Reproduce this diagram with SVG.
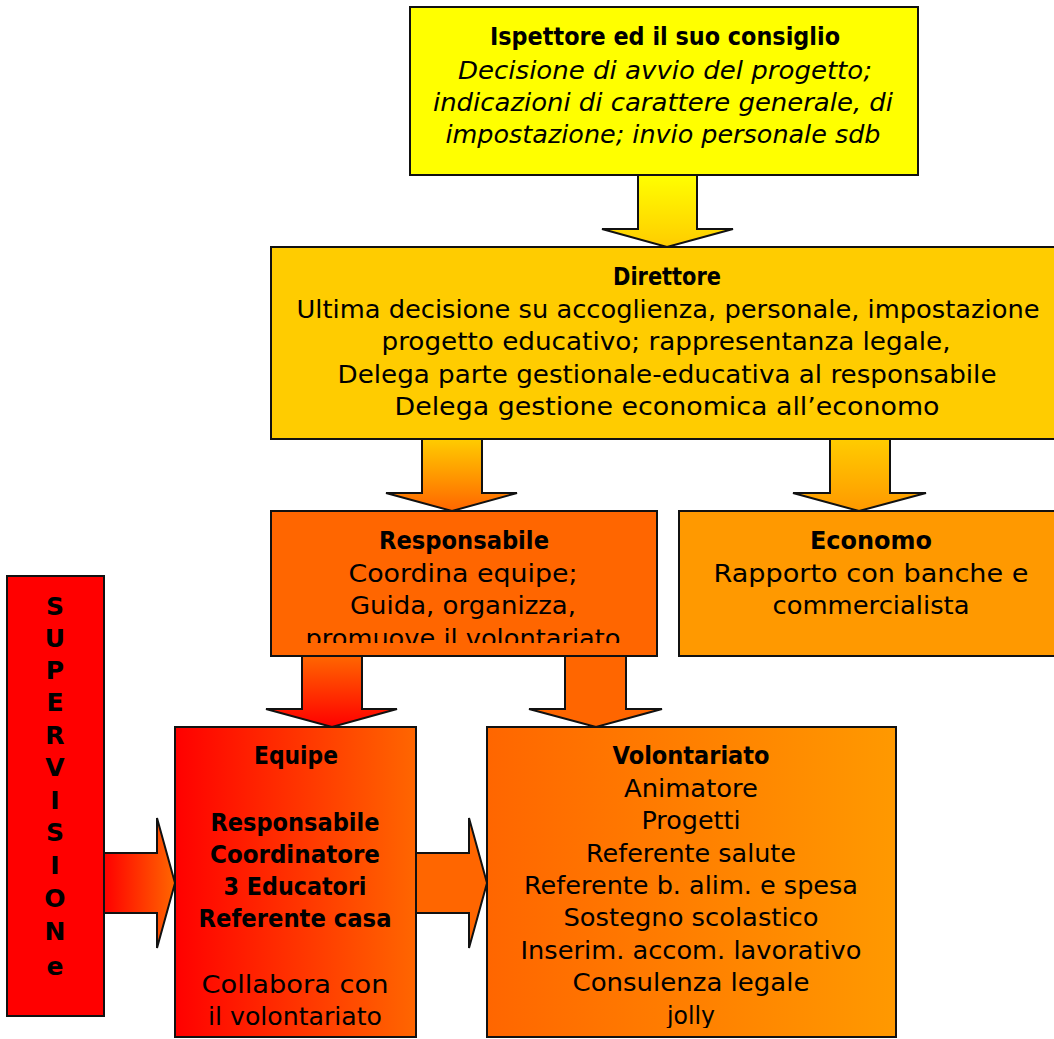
<svg xmlns="http://www.w3.org/2000/svg" width="1054" height="1039" viewBox="0 0 1054 1039">
<style>
  .bx{stroke:#111;stroke-width:2}
  .ar{stroke:#111;stroke-width:2;stroke-linejoin:miter}
  text{font-family:"DejaVu Sans","Liberation Sans",sans-serif;font-size:24.5px;fill:#000;text-anchor:middle}
  .b{font-weight:bold}
  .i{font-style:italic}
  .sv{font-weight:bold;font-size:25px}
</style>
<defs>
  <linearGradient id="gY" x1="0" y1="0" x2="0" y2="1"><stop offset="0" stop-color="#FFFF00"/><stop offset="1" stop-color="#FFCC00"/></linearGradient>
  <linearGradient id="gYO" x1="0" y1="0" x2="0" y2="1"><stop offset="0" stop-color="#FFCC00"/><stop offset="1" stop-color="#FF6600"/></linearGradient>
  <linearGradient id="gYE" x1="0" y1="0" x2="0" y2="1"><stop offset="0" stop-color="#FFCC00"/><stop offset="1" stop-color="#FF9900"/></linearGradient>
  <linearGradient id="gOR" x1="0" y1="0" x2="0" y2="1"><stop offset="0" stop-color="#FF6600"/><stop offset="1" stop-color="#FF0000"/></linearGradient>
  <linearGradient id="gRO" x1="0" y1="0" x2="1" y2="0"><stop offset="0" stop-color="#FF0000"/><stop offset="1" stop-color="#FF6600"/></linearGradient>
  <linearGradient id="gOE" x1="0" y1="0" x2="1" y2="0"><stop offset="0" stop-color="#FF6600"/><stop offset="1" stop-color="#FF9900"/></linearGradient>
  <clipPath id="cResp"><rect x="271" y="511" width="386" height="132"/></clipPath>
  <clipPath id="cBot"><rect x="0" y="727" width="1054" height="301"/></clipPath>
</defs>

<g id="connectors">
  <polygon class="ar" fill="url(#gY)" points="638,175 697,175 697,229 733,229 667,247 602,229 638,229"/>
  <polygon class="ar" fill="url(#gYO)" points="422,439 482,439 482,493 517,493 452,511 386,493 422,493"/>
  <polygon class="ar" fill="url(#gYE)" points="830,439 890,439 890,493 926,493 859,511 793,493 830,493"/>
  <polygon class="ar" fill="url(#gOR)" points="302,656 362,656 362,709 397,709 332,727 266,709 302,709"/>
  <polygon class="ar" fill="#FF6600" points="565,656 626,656 626,709 662,709 596,727 529,709 565,709"/>
  <polygon class="ar" fill="url(#gRO)" points="104,853 157,853 157,818 175,883 157,948 157,913 104,913"/>
  <polygon class="ar" fill="#FF6600" points="416,853 469,853 469,818 487,883 469,948 469,913 416,913"/>
</g>

<g id="ispettore">
  <rect class="bx" x="410" y="7" width="508" height="168" fill="#FFFF00"/>
  <text class="b" x="665" y="45" textLength="350" lengthAdjust="spacingAndGlyphs">Ispettore ed il suo consiglio</text>
  <text class="i" x="665" y="79" textLength="414" lengthAdjust="spacingAndGlyphs">Decisione di avvio del progetto;</text>
  <text class="i" x="663" y="111" textLength="460" lengthAdjust="spacingAndGlyphs">indicazioni di carattere generale, di</text>
  <text class="i" x="663" y="143" textLength="435" lengthAdjust="spacingAndGlyphs">impostazione; invio personale sdb</text>
</g>

<g id="direttore">
  <rect class="bx" x="271" y="247" width="800" height="192" fill="#FFCC00"/>
  <text class="b" x="667" y="285" textLength="108" lengthAdjust="spacingAndGlyphs">Direttore</text>
  <text x="668" y="318" textLength="743" lengthAdjust="spacingAndGlyphs">Ultima decisione su accoglienza, personale, impostazione</text>
  <text x="666" y="350" textLength="569" lengthAdjust="spacingAndGlyphs">progetto educativo; rappresentanza legale,</text>
  <text x="667" y="383" textLength="659" lengthAdjust="spacingAndGlyphs">Delega parte gestionale-educativa al responsabile</text>
  <text x="667" y="415" textLength="545" lengthAdjust="spacingAndGlyphs">Delega gestione economica all’economo</text>
</g>

<g id="responsabile">
  <rect class="bx" x="271" y="511" width="386" height="145" fill="#FF6600"/>
  <g clip-path="url(#cResp)">
    <text class="b" x="464" y="549" textLength="170" lengthAdjust="spacingAndGlyphs">Responsabile</text>
    <text x="463" y="582" textLength="229" lengthAdjust="spacingAndGlyphs">Coordina equipe;</text>
    <text x="463" y="614" textLength="226" lengthAdjust="spacingAndGlyphs">Guida, organizza,</text>
    <text x="463" y="647" textLength="315" lengthAdjust="spacingAndGlyphs">promuove il volontariato</text>
  </g>
</g>

<g id="economo">
  <rect class="bx" x="679" y="511" width="400" height="145" fill="#FF9900"/>
  <text class="b" x="871" y="549" textLength="122" lengthAdjust="spacingAndGlyphs">Economo</text>
  <text x="871" y="582" textLength="315" lengthAdjust="spacingAndGlyphs">Rapporto con banche e</text>
  <text x="871" y="614" textLength="197" lengthAdjust="spacingAndGlyphs">commercialista</text>
</g>

<g id="supervisione">
  <rect class="bx" x="7" y="576" width="97" height="440" fill="#FF0000"/>
  <text class="sv" x="55" y="615">S</text>
  <text class="sv" x="55" y="647">U</text>
  <text class="sv" x="55" y="679">P</text>
  <text class="sv" x="55" y="711">E</text>
  <text class="sv" x="55" y="744">R</text>
  <text class="sv" x="55" y="776">V</text>
  <text class="sv" x="55" y="809">I</text>
  <text class="sv" x="55" y="841">S</text>
  <text class="sv" x="55" y="874">I</text>
  <text class="sv" x="55" y="907">O</text>
  <text class="sv" x="55" y="940">N</text>
  <text class="sv" x="55" y="975">e</text>
</g>

<g id="equipe">
  <rect class="bx" x="175" y="727" width="241" height="310" fill="url(#gRO)"/>
  <g clip-path="url(#cBot)">
    <text class="b" x="296" y="764" textLength="84" lengthAdjust="spacingAndGlyphs">Equipe</text>
    <text class="b" x="295" y="831" textLength="169" lengthAdjust="spacingAndGlyphs">Responsabile</text>
    <text class="b" x="295" y="863" textLength="170" lengthAdjust="spacingAndGlyphs">Coordinatore</text>
    <text class="b" x="295" y="895" textLength="143" lengthAdjust="spacingAndGlyphs">3 Educatori</text>
    <text class="b" x="295" y="927" textLength="193" lengthAdjust="spacingAndGlyphs">Referente casa</text>
    <text x="295" y="993" textLength="187" lengthAdjust="spacingAndGlyphs">Collabora con</text>
    <text x="295" y="1025" textLength="174" lengthAdjust="spacingAndGlyphs">il volontariato</text>
  </g>
</g>

<g id="volontariato">
  <rect class="bx" x="487" y="727" width="409" height="310" fill="url(#gOE)"/>
  <g clip-path="url(#cBot)">
    <text class="b" x="691" y="764" textLength="157" lengthAdjust="spacingAndGlyphs">Volontariato</text>
    <text x="691" y="797" textLength="134" lengthAdjust="spacingAndGlyphs">Animatore</text>
    <text x="691" y="829" textLength="99" lengthAdjust="spacingAndGlyphs">Progetti</text>
    <text x="691" y="862" textLength="210" lengthAdjust="spacingAndGlyphs">Referente salute</text>
    <text x="691" y="894" textLength="334" lengthAdjust="spacingAndGlyphs">Referente b. alim. e spesa</text>
    <text x="691" y="926" textLength="255" lengthAdjust="spacingAndGlyphs">Sostegno scolastico</text>
    <text x="691" y="959" textLength="341" lengthAdjust="spacingAndGlyphs">Inserim. accom. lavorativo</text>
    <text x="691" y="991" textLength="237" lengthAdjust="spacingAndGlyphs">Consulenza legale</text>
    <text x="691" y="1024" textLength="48" lengthAdjust="spacingAndGlyphs">jolly</text>
  </g>
</g>
</svg>
